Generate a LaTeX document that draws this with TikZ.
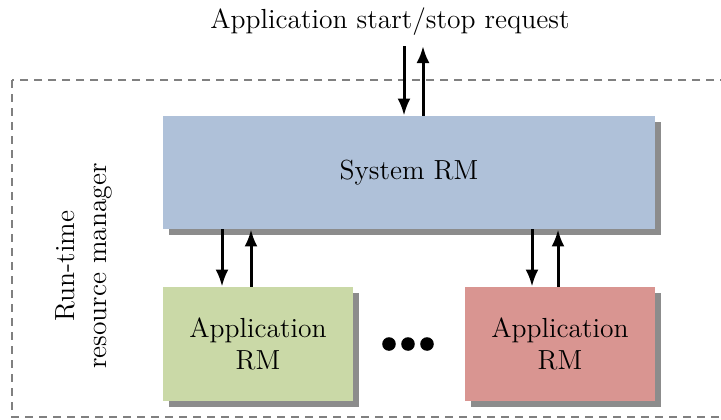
\documentclass[tikz,border=0pt]{standalone}
\usetikzlibrary{arrows.meta,shadows}
\definecolor{sysblue}{RGB}{175,193,217}
\definecolor{appgreen}{RGB}{202,217,167}
\definecolor{appred}{RGB}{217,149,145}

\begin{document}
\begin{tikzpicture}[x=0.5pt, y=-0.5pt,
  font=\fontsize{13.8}{16}\selectfont,
  rmbox/.style={inner sep=0pt, align=center,
    drop shadow={shadow xshift=3pt, shadow yshift=-3pt, fill=black, opacity=0.45}},
  flow/.style={line width=1.5pt, -{Latex[length=8.5pt,width=6.5pt]}},
  frame/.style={gray, line width=0.7pt, dash pattern=on 4pt off 3pt}]
        \clip (0,0) rectangle (721,419);
        \draw[frame] (12,80) rectangle (740,417);
        \node[anchor=base] (req) at (390,28) {Application start/stop request};
        \node[rmbox, fill=sysblue, minimum width=246pt, minimum height=56.5pt]
        (sys) at (409,172.5) {System RM};
        \node[rmbox, fill=appgreen, minimum width=95pt, minimum height=57pt]
        (app1) at (258,344) {Application\\RM};
        \node[rmbox, fill=appred, minimum width=95pt, minimum height=57pt]
        (app2) at (560,344) {Application\\RM};
        \node[rotate=90, align=center] (rrm) at (84,266) {Run-time\\resource manager};
        \foreach \i/\x in {1/389, 2/408, 3/427}
        \node[circle, fill, inner sep=2.4pt] (dot\i) at (\x,344) {};
        % request arrows
        \coordinate (rq1) at (404,46);
        \coordinate (rq2) at (423,46);
        \draw[flow] (rq1) -- (rq1 |- sys.north);
        \draw[flow] (rq2 |- sys.north) -- (rq2);
        % system <-> application arrows
        \coordinate (l1) at (222,0);
        \coordinate (l2) at (251,0);
        \coordinate (r1) at (532,0);
        \coordinate (r2) at (558,0);
        \draw[flow] (l1 |- sys.south) -- (l1 |- app1.north);
        \draw[flow] (l2 |- app1.north) -- (l2 |- sys.south);
        \draw[flow] (r1 |- sys.south) -- (r1 |- app2.north);
        \draw[flow] (r2 |- app2.north) -- (r2 |- sys.south);
\end{tikzpicture}
\end{document}
